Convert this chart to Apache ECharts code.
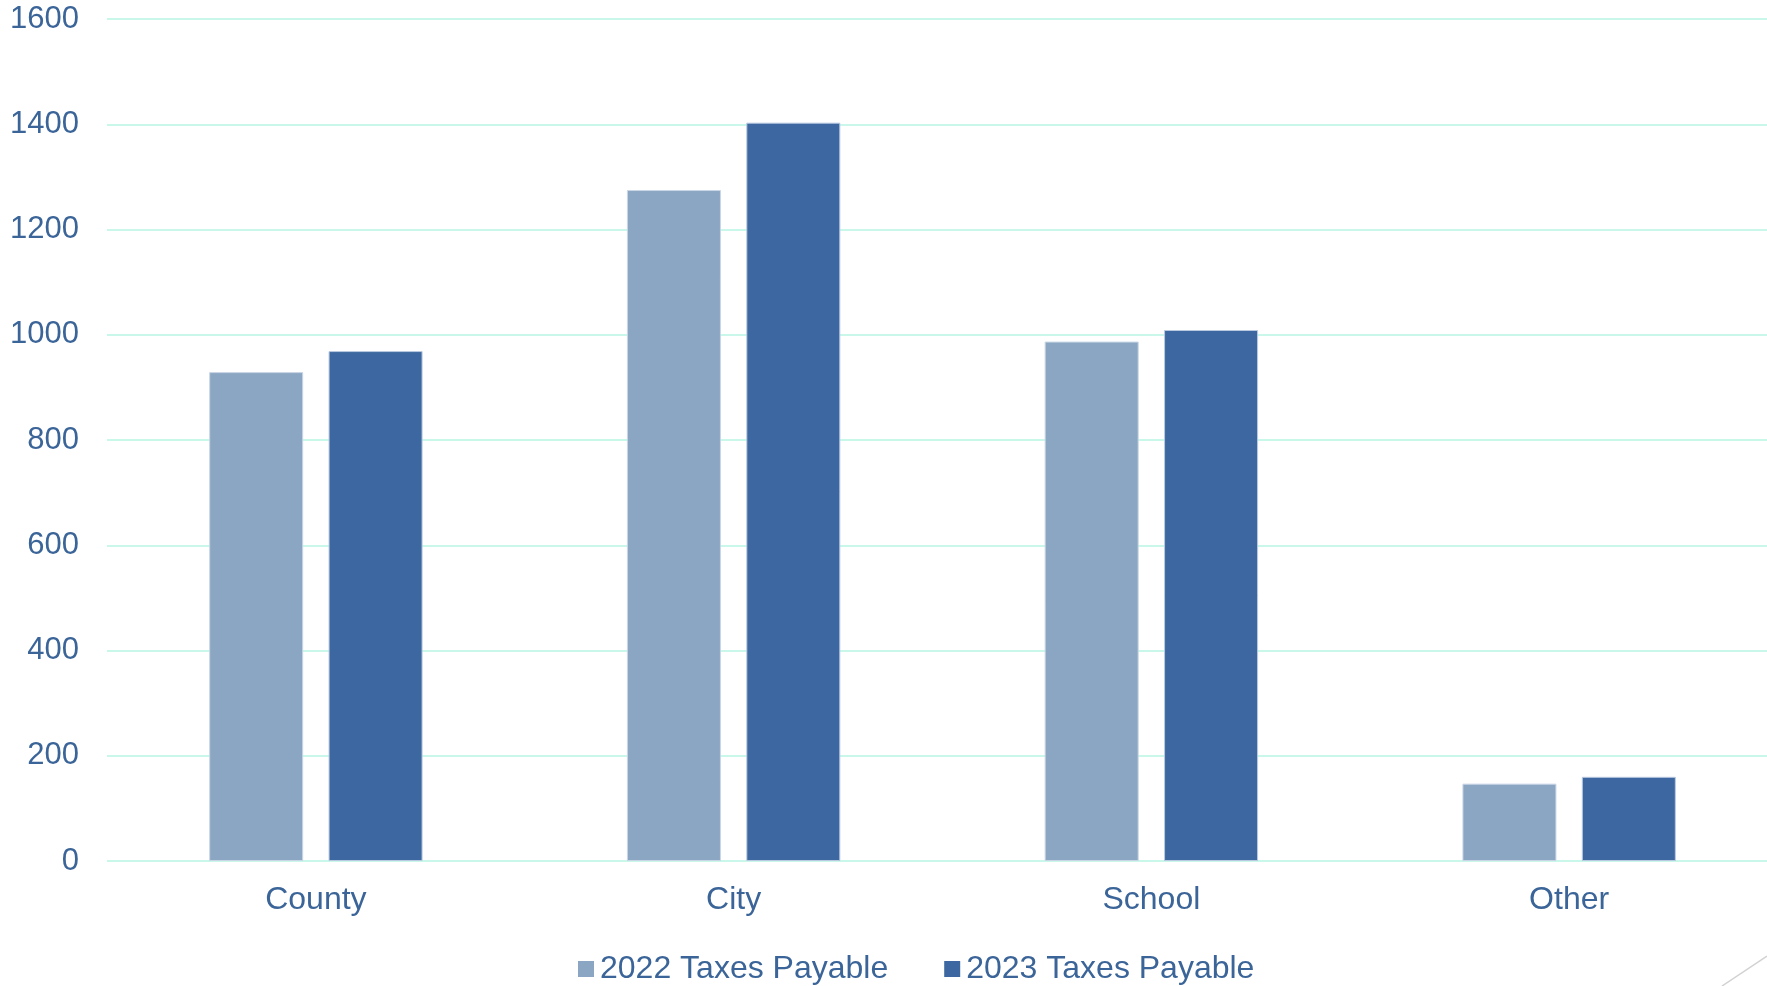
<!DOCTYPE html>
<html>
<head>
<meta charset="utf-8">
<script src="https://cdn.jsdelivr.net/npm/echarts@6/dist/echarts.min.js"></script>
<style>
html,body{margin:0;padding:0;background:#fff;}
#chart{width:1767px;height:986px;}
</style>
</head>
<body>
<div id="chart"></div>
<script>
const categories = ['County', 'City', 'School', 'Other'];
const seriesNames = ['2022 Taxes Payable', '2023 Taxes Payable'];
const values2022 = [929, 1275, 987, 147];
const values2023 = [969, 1403, 1009, 160];
const yTicks = [0, 200, 400, 600, 800, 1000, 1200, 1400, 1600];

const textColor = '#3B6598';
const font = "'Liberation Sans', Arial, sans-serif";

const chart = echarts.init(document.getElementById('chart'), null, {renderer: 'canvas'});
chart.setOption({
  backgroundColor: '#ffffff',
  animation: false,
  grid: {left: 107, top: 19, width: 1671, height: 842, containLabel: false, outerBoundsMode: 'none'},
  legend: {
    data: seriesNames,
    left: 573,
    top: 948,
    itemWidth: 16,
    itemHeight: 16,
    itemGap: 56,
    icon: 'rect',
    itemStyle: {borderWidth: 0},
    textStyle: {color: textColor, fontSize: 32, fontFamily: font, padding: [0, 0, 0, 1]}
  },
  xAxis: {
    type: 'category',
    data: categories,
    axisLine: {show: false},
    axisTick: {show: false},
    axisLabel: {color: textColor, fontSize: 32, fontFamily: font, margin: 23}
  },
  yAxis: {
    type: 'value',
    min: yTicks[0],
    max: yTicks[yTicks.length - 1],
    interval: 200,
    axisLine: {show: false},
    axisTick: {show: false},
    axisLabel: {color: textColor, fontSize: 31, fontFamily: font, margin: 28, formatter: v => String(v)},
    splitLine: {lineStyle: {color: '#c9f8ea', width: 2}}
  },
  series: [
    {
      name: seriesNames[0],
      type: 'bar',
      data: values2022,
      barWidth: 94,
      barGap: '27%',
      itemStyle: {color: '#8BA6C2', borderColor: '#c9d6e6', borderWidth: 1}
    },
    {
      name: seriesNames[1],
      type: 'bar',
      data: values2023,
      barWidth: 94,
      barGap: '27%',
      itemStyle: {color: '#3C67A0', borderColor: '#b9c9df', borderWidth: 1}
    }
  ],
  graphic: [
    {
      type: 'line',
      shape: {x1: 1722, y1: 986, x2: 1767, y2: 956},
      style: {stroke: '#d2d2d2', lineWidth: 1.5}
    }
  ]
});
</script>
</body>
</html>
